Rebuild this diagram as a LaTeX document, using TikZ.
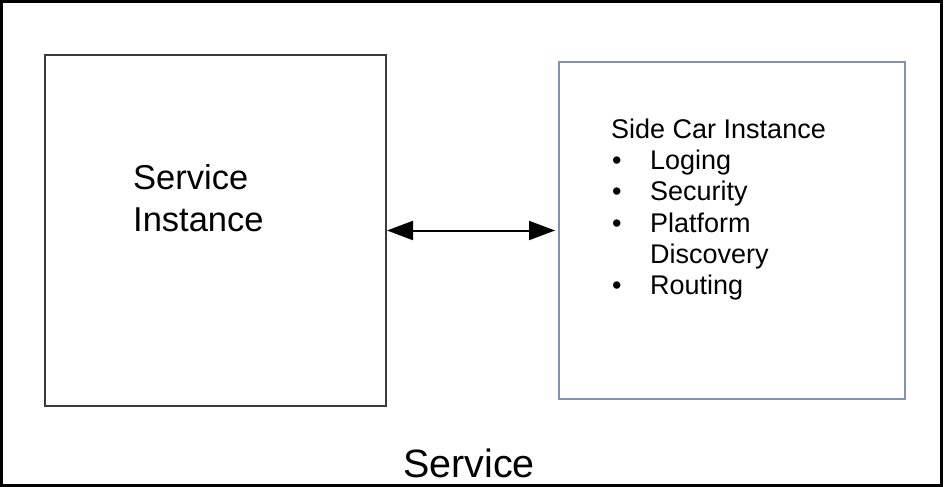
\documentclass[tikz,border=0pt]{standalone}
\usepackage{fontspec}
\setmainfont{Liberation Sans}
\usepackage{tikz}
\usetikzlibrary{arrows.meta}

\definecolor{boxgray}{RGB}{58,58,60}
\definecolor{carblue}{RGB}{131,146,180}
\newcommand{\itm}[1]{\makebox[39pt][l]{\hspace{1pt}\textbullet}#1}

\begin{document}
\begin{tikzpicture}[x=1pt,y=-1pt,
  frame/.style={draw=black, line width=3pt, minimum width=940pt, minimum height=483pt, inner sep=0pt},
  box/.style={draw=#1, line width=2pt, inner sep=0pt},
  label/.style={inner sep=0pt, anchor=base west}]
\useasboundingbox (0,0) rectangle (945,487);

\node [frame] (svc) at (471.5,243.5) {};
\node [box=boxgray, minimum width=341pt, minimum height=351pt] (si) at (215.5,230.5) {};
\node [box=carblue, minimum width=346pt, minimum height=337pt] (sc) at (732,230.5) {};

\node [label, font=\fontsize{34.5}{42}\selectfont] (sitext) at (133,189)
  {\begin{tabular}[t]{@{}l@{}}Service\\Instance\end{tabular}};
\node [label, font=\fontsize{27}{31.4}\selectfont] (sctext) at (611,138)
  {\begin{tabular}[t]{@{}l@{}}Side Car Instance\\ \itm{Loging}\\ \itm{Security}\\
   \itm{Platform}\\ \hspace{39pt}Discovery\\ \itm{Routing}\end{tabular}};
\node [label, font=\fontsize{39.5}{47}\selectfont] (svctext) at (403,477) {Service};

\draw [{Triangle[length=26pt,width=19pt]}-{Triangle[length=26pt,width=19pt]}, line width=2pt, shorten >=3pt]
  (si.east) -- (sc.west);
\end{tikzpicture}
\end{document}
